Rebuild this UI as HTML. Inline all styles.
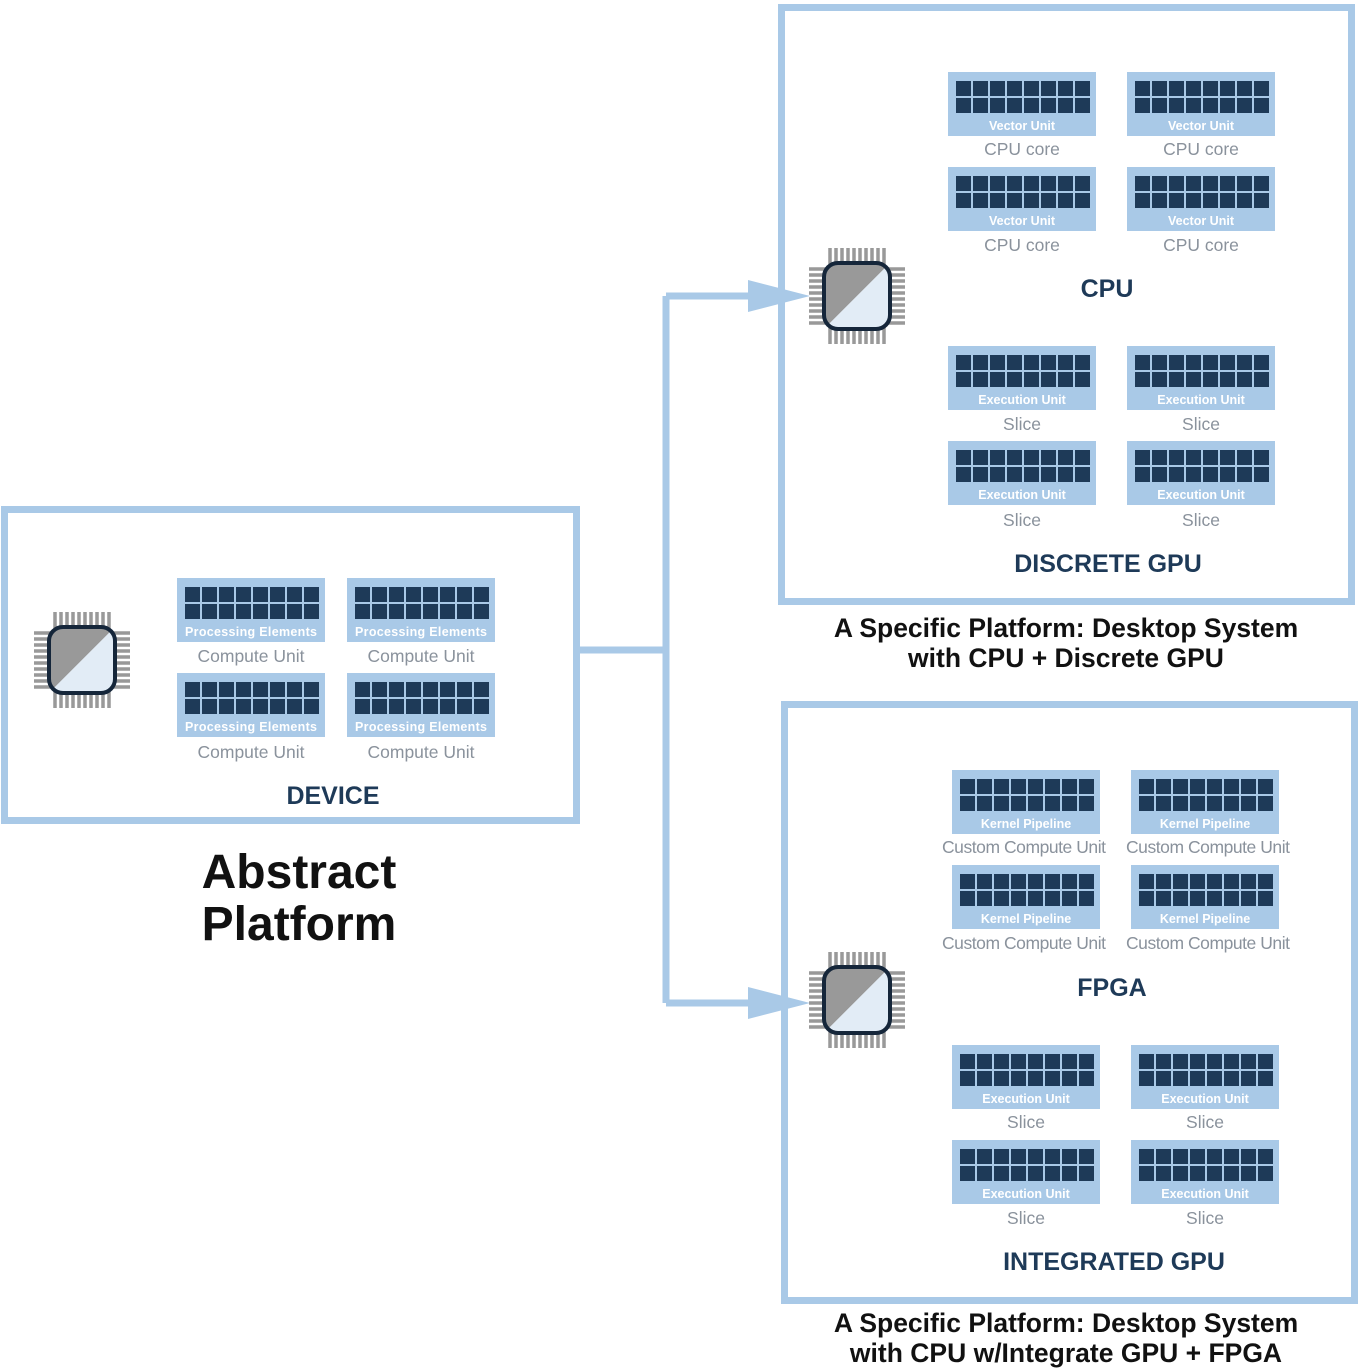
<!DOCTYPE html>
<html><head><meta charset="utf-8"><style>body{margin:0;background:#fff}svg{display:block}</style></head>
<body>
<svg width="1363" height="1371" viewBox="0 0 1363 1371" xmlns="http://www.w3.org/2000/svg" font-family="Liberation Sans, DejaVu Sans, sans-serif">
<defs>
<g id="u">
<rect x="0" y="0" width="148" height="64" fill="#a9c9e7"/>
<g fill="#1e3a58">
<rect x="8" y="9" width="15" height="15"/><rect x="25" y="9" width="15" height="15"/><rect x="42" y="9" width="15" height="15"/><rect x="59" y="9" width="15" height="15"/><rect x="76" y="9" width="15" height="15"/><rect x="93" y="9" width="15" height="15"/><rect x="110" y="9" width="15" height="15"/><rect x="127" y="9" width="15" height="15"/>
<rect x="8" y="26" width="15" height="15"/><rect x="25" y="26" width="15" height="15"/><rect x="42" y="26" width="15" height="15"/><rect x="59" y="26" width="15" height="15"/><rect x="76" y="26" width="15" height="15"/><rect x="93" y="26" width="15" height="15"/><rect x="110" y="26" width="15" height="15"/><rect x="127" y="26" width="15" height="15"/>
</g></g>
<clipPath id="cb"><rect x="-33" y="-33" width="66" height="66" rx="14"/></clipPath>
<g id="chip">
<g stroke="#999" stroke-width="3.5">
<path d="M-27 -48V48M-21 -48V48M-15 -48V48M-9 -48V48M-3 -48V48M3 -48V48M9 -48V48M15 -48V48M21 -48V48M27 -48V48"/>
<path d="M-48 -27H48M-48 -21H48M-48 -15H48M-48 -9H48M-48 -3H48M-48 3H48M-48 9H48M-48 15H48M-48 21H48M-48 27H48"/>
</g>
<rect x="-33" y="-33" width="66" height="66" rx="14" fill="#fff"/>
<g clip-path="url(#cb)"><polygon points="-40,-40 40,-40 -40,40" fill="#999"/><polygon points="40,-40 40,40 -40,40" fill="#e2ecf6"/></g>
<rect x="-33" y="-33" width="66" height="66" rx="14" fill="none" stroke="#15263a" stroke-width="4"/>
</g>
</defs>

<g fill="none" stroke="#a9c9e7" stroke-width="7">
<rect x="4.5" y="509.5" width="572" height="311"/>
<rect x="781.5" y="7.5" width="570" height="594"/>
<rect x="784.5" y="704.5" width="570" height="596"/>
<path d="M579 650H666M666 296V1003M666 296H760M666 1003H760"/>
</g>
<polygon points="748,280 810,296 748,312" fill="#a9c9e7"/>
<polygon points="748,987 810,1003 748,1019" fill="#a9c9e7"/>

<use href="#chip" x="82" y="660"/>
<use href="#chip" x="857" y="296"/>
<use href="#chip" x="857" y="1000"/>

<use href="#u" x="177" y="578"/><use href="#u" x="347" y="578"/><use href="#u" x="177" y="673"/><use href="#u" x="347" y="673"/>
<use href="#u" x="948" y="72"/><use href="#u" x="1127" y="72"/><use href="#u" x="948" y="167"/><use href="#u" x="1127" y="167"/>
<use href="#u" x="948" y="346"/><use href="#u" x="1127" y="346"/><use href="#u" x="948" y="441"/><use href="#u" x="1127" y="441"/>
<use href="#u" x="952" y="770"/><use href="#u" x="1131" y="770"/><use href="#u" x="952" y="865"/><use href="#u" x="1131" y="865"/>
<use href="#u" x="952" y="1045"/><use href="#u" x="1131" y="1045"/><use href="#u" x="952" y="1140"/><use href="#u" x="1131" y="1140"/>

<g fill="#fff" font-size="12.5" font-weight="bold" text-anchor="middle">
<text x="251" y="636" textLength="132">Processing Elements</text><text x="421" y="636" textLength="132">Processing Elements</text><text x="251" y="731" textLength="132">Processing Elements</text><text x="421" y="731" textLength="132">Processing Elements</text>
<text x="1022" y="130">Vector Unit</text><text x="1201" y="130">Vector Unit</text><text x="1022" y="225">Vector Unit</text><text x="1201" y="225">Vector Unit</text>
<text x="1022" y="404">Execution Unit</text><text x="1201" y="404">Execution Unit</text><text x="1022" y="499">Execution Unit</text><text x="1201" y="499">Execution Unit</text>
<text x="1026" y="828">Kernel Pipeline</text><text x="1205" y="828">Kernel Pipeline</text><text x="1026" y="923">Kernel Pipeline</text><text x="1205" y="923">Kernel Pipeline</text>
<text x="1026" y="1103">Execution Unit</text><text x="1205" y="1103">Execution Unit</text><text x="1026" y="1198">Execution Unit</text><text x="1205" y="1198">Execution Unit</text>
</g>
<g fill="#8a929c" font-size="17.5" text-anchor="middle">
<text x="251" y="662">Compute Unit</text><text x="421" y="662">Compute Unit</text><text x="251" y="758">Compute Unit</text><text x="421" y="758">Compute Unit</text>
<text x="1022" y="155">CPU core</text><text x="1201" y="155">CPU core</text><text x="1022" y="251">CPU core</text><text x="1201" y="251">CPU core</text>
<text x="1022" y="430">Slice</text><text x="1201" y="430">Slice</text><text x="1022" y="526">Slice</text><text x="1201" y="526">Slice</text>
<text x="1024" y="853" textLength="164">Custom Compute Unit</text><text x="1208" y="853" textLength="164">Custom Compute Unit</text><text x="1024" y="949" textLength="164">Custom Compute Unit</text><text x="1208" y="949" textLength="164">Custom Compute Unit</text>
<text x="1026" y="1128">Slice</text><text x="1205" y="1128">Slice</text><text x="1026" y="1224">Slice</text><text x="1205" y="1224">Slice</text>
</g>
<g fill="#1e3a58" font-size="25" font-weight="bold" text-anchor="middle">
<text x="333" y="804">DEVICE</text>
<text x="1107" y="297">CPU</text>
<text x="1108" y="572">DISCRETE GPU</text>
<text x="1112" y="996">FPGA</text>
<text x="1114" y="1270">INTEGRATED GPU</text>
</g>
<g fill="#111" font-weight="bold" text-anchor="middle">
<text x="299" y="888" font-size="48">Abstract</text>
<text x="299" y="940" font-size="48">Platform</text>
<g font-size="26.5">
<text x="1066" y="637">A Specific Platform: Desktop System</text>
<text x="1066" y="667">with CPU + Discrete GPU</text>
<text x="1066" y="1332">A Specific Platform: Desktop System</text>
<text x="1066" y="1362">with CPU w/Integrate GPU + FPGA</text>
</g></g>
</svg>
</body></html>
